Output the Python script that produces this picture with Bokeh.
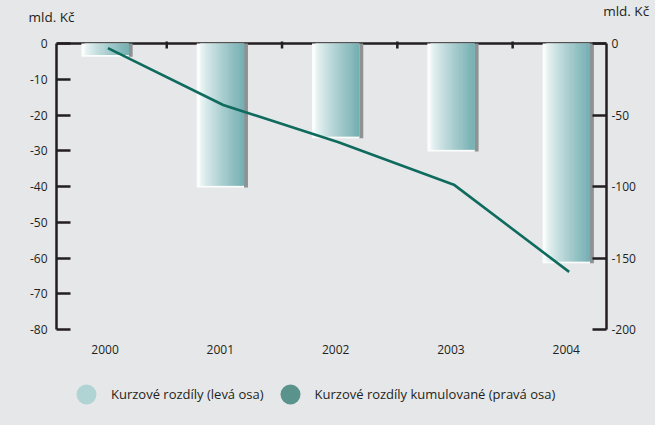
import numpy as np
from bokeh.plotting import figure
from bokeh.models import (Range1d, LinearAxis, FixedTicker, Legend, Label,
                          LegendItem, ColumnDataSource, PrintfTickFormatter,
                          AllLabels)
from bokeh.transform import dodge
from bokeh.core.properties import value
from bokeh.embed import file_html
from bokeh.resources import INLINE

# ---- data ----
years = ["2000", "2001", "2002", "2003", "2004"]
diffs = [-3.2, -39.8, -26.0, -29.7, -61.0]          # Kurzové rozdíly (levá osa)
cumulative = [-3.2, -43.0, -69.0, -98.7, -159.7]    # kumulované (pravá osa)
left_ticks = [-80, -70, -60, -50, -40, -30, -20, -10, 0]
right_ticks = [-200, -150, -100, -50, 0]
unit_label = "mld. Kč"
legend_labels = ["Kurzové rozdíly (levá osa)",
                 "Kurzové rozdíly kumulované (pravá osa)"]

BG = "#e6e7e9"
INK = "#231f20"
FONT = "Open Sans"
LINE_COLOR = "#0f6b5e"

idx = np.arange(len(years))

# frame: x 56..606, y 41..425 ; left axis 0..-80 occupies 43..329
p = figure(width=655, height=425, output_backend="svg", toolbar_location=None,
           x_range=Range1d(-0.421, 4.349), y_range=Range1d(-106.85, 0.56),
           x_axis_location=None,
           min_border_left=56, min_border_right=49, min_border_top=41,
           min_border_bottom=0, background_fill_color=BG,
           border_fill_color=BG, outline_line_color=None)
p.grid.visible = False
p.extra_y_ranges = {"right": Range1d(-267.1, 1.4)}
yl = p.yaxis[0]

# ---- top base line at zero with small ticks between categories ----
p.hspan(y=[left_ticks[-1]], line_color=INK, line_width=2.5)
p.scatter(x=idx[:-1] + 0.535, y=[left_ticks[-1]] * (len(idx) - 1), marker="dash",
          angle=np.pi / 2, size=10, line_color=INK, line_width=2.5)

# ---- bars: white backing, gradient strips, grey shadow ----
BAR_W = 0.41
N = 40
edge = 0.03
sw = (BAR_W - edge) / N
centers = -BAR_W / 2 + edge + sw * (np.arange(N) + 0.5)
c0 = np.array([238, 246, 246])
c1 = np.array([118, 176, 179])
t = (np.arange(N) / (N - 1)) ** 0.85
strip_colors = ["#%02x%02x%02x" % tuple(int(round(v)) for v in (c0 + (c1 - c0) * tt))
                for tt in t]

bars = ColumnDataSource(dict(x=idx, top=np.zeros(len(idx)), bottom=diffs))
p.vbar(x=dodge("x", BAR_W / 2 + 0.017, range=p.x_range), width=0.035, top="top",
       bottom=dodge("bottom", -0.5), source=bars, fill_color="#8f9193",
       line_color=None)
p.vbar(x="x", width=BAR_W, top="top", bottom=dodge("bottom", -0.5), source=bars,
       fill_color="#fbfdfd", line_color=None)

strips = ColumnDataSource(dict(
    x=np.repeat(idx, N) + np.tile(centers, len(idx)),
    bottom=np.repeat(diffs, N),
    top=np.zeros(len(idx) * N),
    color=strip_colors * len(idx),
))
p.vbar(x="x", width=sw * 1.6, top="top", bottom="bottom", source=strips,
       fill_color="color", line_color=None)

# ---- cumulative line ----
line_src = ColumnDataSource(dict(x=idx, y=cumulative))
p.line(x=dodge("x", 0.025), y="y", source=line_src, y_range_name="right",
       line_color=LINE_COLOR, line_width=2.6)

# ---- axes ----
yl.ticker = FixedTicker(ticks=left_ticks)
yl.bounds = (left_ticks[0], left_ticks[-1])
yl.formatter = PrintfTickFormatter(format="%d")
yr = LinearAxis(y_range_name="right", ticker=FixedTicker(ticks=right_ticks),
                bounds=(right_ticks[0], right_ticks[-1]),
                formatter=PrintfTickFormatter(format="%d"))
p.add_layout(yr, "right")
for ax, standoff in ((yl, 9), (yr, 5)):
    ax.axis_line_width = 2.5
    ax.axis_line_color = INK
    ax.major_tick_in = 14
    ax.major_tick_out = 0
    ax.major_tick_line_width = 2.5
    ax.major_tick_line_color = INK
    ax.minor_tick_line_color = None
    ax.major_label_text_font = FONT
    ax.major_label_text_font_size = "12px"
    ax.major_label_text_color = INK
    ax.major_label_standoff = standoff
    ax.major_label_policy = AllLabels()

# ---- category labels under the axis bottom ----
cat_src = ColumnDataSource(dict(x=idx, y=[left_ticks[0]] * len(idx), text=years))
p.text(x="x", y="y", text="text", source=cat_src, y_offset=20,
       text_align="center", text_baseline="middle", text_font=value(FONT),
       text_font_size="12px", text_color=INK)

# ---- unit labels ----
p.add_layout(Label(x=-0.663, y=7.3, text=unit_label, text_baseline="middle",
                   text_font=FONT, text_font_size="13.5px", text_color=INK), "above")
p.add_layout(Label(x=4.32, y=22.4, y_range_name="right", text=unit_label,
                   text_baseline="middle", text_font=FONT, text_font_size="13.5px",
                   text_color=INK), "above")

# ---- legend ----
r1 = p.scatter(x=[np.nan], y=[np.nan], marker="circle", fill_color="#b0d3d4",
               line_color=None)
r2 = p.scatter(x=[np.nan], y=[np.nan], marker="circle", fill_color="#5a938c",
               line_color=None)
legend = Legend(items=[LegendItem(label=legend_labels[0], renderers=[r1]),
                       LegendItem(label=legend_labels[1], renderers=[r2])],
                location=(5, 6), orientation="horizontal",
                glyph_width=50, glyph_height=50, label_standoff=0, spacing=1,
                padding=0, margin=0, background_fill_alpha=0,
                border_line_color=None, label_text_font=FONT,
                label_text_font_size="13px", label_text_color=INK)
p.add_layout(legend, "center")

html = file_html(p, INLINE)
html = html.replace("</head>", "<style>body{background-color:%s;}</style></head>" % BG, 1)
open("out.html", "w").write(html)
